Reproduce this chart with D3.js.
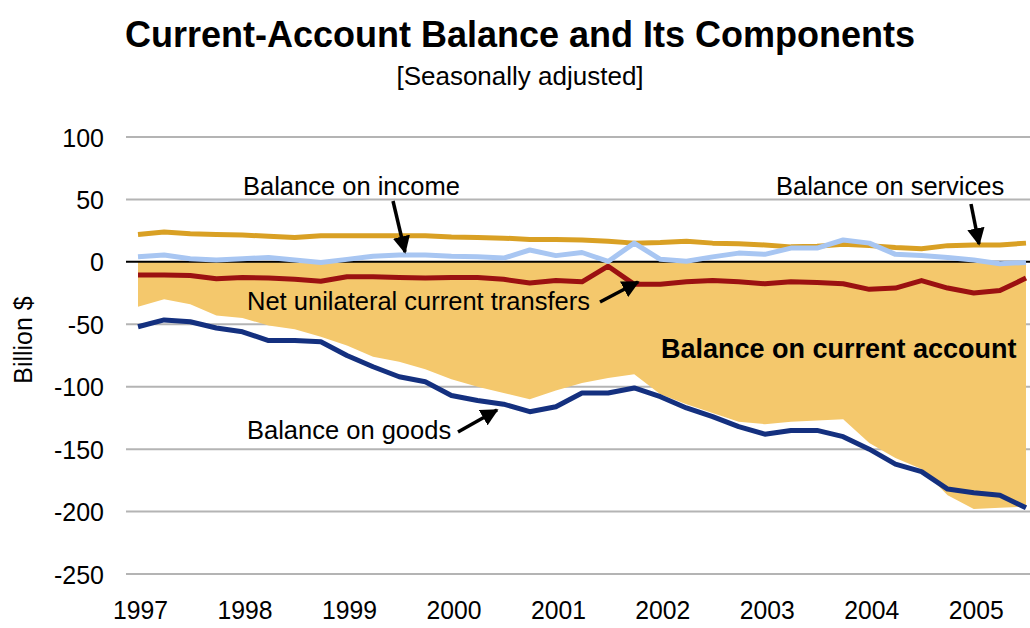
<!DOCTYPE html>
<html>
<head>
<meta charset="utf-8">
<script src="https://cdn.jsdelivr.net/npm/d3@7"></script>
<style>
  body { margin: 0; background: #fff; }
  svg { font-family: "Liberation Sans", Arial, sans-serif; }
</style>
</head>
<body>
<script>
// quarterly data, 1997Q1 .. 2005Q3 (billion $, seasonally adjusted)
const years = ["1997", "1998", "1999", "2000", "2001", "2002", "2003", "2004", "2005"];
const yTicks = [100, 50, 0, -50, -100, -150, -200, -250];

const goods = [-52, -46.5, -48, -53, -56, -63, -63, -64, -75, -84, -92, -96,
  -107, -111, -114, -120, -116, -105, -105, -101, -108, -117, -124, -132,
  -138, -135, -135, -140, -150, -162, -168, -182, -185, -187, -197];
const services = [22, 24, 22.5, 22, 21.5, 20.5, 19.5, 21, 21, 21, 21, 21,
  20, 19.5, 19, 18, 18, 17.5, 16.5, 15, 15.5, 16.5, 15, 14.5,
  13.5, 12, 12.5, 14, 13, 11.5, 10.5, 13, 13.5, 13.5, 15];
const income = [4, 5.5, 2.5, 1.5, 2.5, 3.5, 1.5, -0.5, 2, 4.5, 5.5, 5.5,
  4.5, 4, 3, 9.5, 5, 7.5, 0.3, 15, 2, 0.5, 4, 7,
  6, 11, 11, 17.5, 15, 6, 5, 3.5, 1.5, -1.5, -0.5];
const transfers = [-10.5, -10.5, -11, -13.5, -12.5, -13, -14, -15.5, -12, -12, -12.5, -13,
  -12.5, -12.5, -14, -17, -15, -16, -3.5, -18, -18, -16, -15, -16,
  -17.5, -16, -16.5, -17.5, -22, -21, -15, -21, -25, -23, -13];
const currentAccount = [-36, -30, -34, -43, -45, -51, -54, -60, -67, -76, -80, -86,
  -94, -100, -105, -110, -103, -97, -93, -90, -106, -114, -121, -128,
  -130, -128, -127, -126, -145, -157, -166, -187, -198, -197, -196];

const W = 1030, H = 628;
const svg = d3.select("body").append("svg")
  .attr("width", W).attr("height", H);

const x = d3.scaleLinear().domain([0, goods.length - 1]).range([138, 1026]);
const y = d3.scaleLinear().domain([-250, 100]).range([574, 137]);

// titles
svg.append("text").attr("x", 520).attr("y", 47).attr("text-anchor", "middle")
  .attr("font-size", 36).attr("font-weight", "bold")
  .text("Current-Account Balance and Its Components");
svg.append("text").attr("x", 520).attr("y", 85).attr("text-anchor", "middle")
  .attr("font-size", 26)
  .text("[Seasonally adjusted]");

// gridlines
svg.append("g").selectAll("line").data(yTicks.filter(d => d !== 0)).enter()
  .append("line")
  .attr("x1", 126).attr("x2", W)
  .attr("y1", d => y(d)).attr("y2", d => y(d))
  .attr("stroke", "#b4b4b4").attr("stroke-width", 2);

// current account area
const area = d3.area().x((d, i) => x(i)).y0(y(0)).y1(d => y(d));
svg.append("path").datum(currentAccount)
  .attr("d", area).attr("fill", "#f4c86c");

// zero line
svg.append("line").attr("x1", 126).attr("x2", W)
  .attr("y1", y(0)).attr("y2", y(0))
  .attr("stroke", "#000").attr("stroke-width", 2);

// y axis labels
const yAxis = d3.axisLeft(y).tickValues(yTicks).tickFormat(d => String(d))
  .tickSize(0).tickPadding(0);
const gy = svg.append("g").attr("transform", "translate(104,0)").call(yAxis);
gy.select(".domain").remove();
gy.selectAll("text").attr("font-size", 25).attr("font-family", "Liberation Sans, Arial, sans-serif")
  .attr("fill", "#000").attr("dy", "0.36em");

// x axis labels
const xAxis = d3.axisBottom(x).tickValues(d3.range(0, 33, 4))
  .tickFormat((d, i) => years[i]).tickSize(0).tickPadding(0);
const gx = svg.append("g").attr("transform", "translate(2,601)").call(xAxis);
gx.select(".domain").remove();
gx.selectAll("text").attr("font-size", 26).attr("font-family", "Liberation Sans, Arial, sans-serif")
  .attr("fill", "#000").attr("dy", "0.71em")
  .attr("textLength", 55).attr("lengthAdjust", "spacingAndGlyphs");

// y axis title
svg.append("text").attr("transform", "translate(32,340) rotate(-90)")
  .attr("text-anchor", "middle").attr("font-size", 25).text("Billion $");

// series lines
const line = d3.line().x((d, i) => x(i)).y(d => y(d));
const series = [
  { data: transfers, color: "#9b1111" },
  { data: services, color: "#d9a024" },
  { data: income, color: "#a8c6f2" },
  { data: goods, color: "#14307f" }
];
series.forEach(s => {
  svg.append("path").datum(s.data).attr("d", line)
    .attr("fill", "none").attr("stroke", s.color)
    .attr("stroke-width", 5).attr("stroke-linejoin", "round");
});

// arrow marker
svg.append("defs").append("marker")
  .attr("id", "arrow").attr("viewBox", "0 0 10 10")
  .attr("refX", 9).attr("refY", 5)
  .attr("markerWidth", 5).attr("markerHeight", 5)
  .attr("orient", "auto")
  .append("path").attr("d", "M0,0 L10,5 L0,10 z").attr("fill", "#000");

// annotations
const notes = [
  { text: "Balance on income", x: 243, y: 195, bold: false },
  { text: "Balance on services", x: 776, y: 195, bold: false },
  { text: "Net unilateral current transfers", x: 247, y: 310, bold: false },
  { text: "Balance on current account", x: 661, y: 358, bold: true },
  { text: "Balance on goods", x: 247, y: 439, bold: false }
];
svg.append("g").selectAll("text").data(notes).enter().append("text")
  .attr("x", d => d.x).attr("y", d => d.y)
  .attr("font-size", d => d.bold ? 27 : 25.5)
  .attr("font-weight", d => d.bold ? "bold" : "normal")
  .text(d => d.text);

const arrows = [
  [393, 201, 405, 252],
  [971, 204, 979, 244],
  [600, 302, 638, 282],
  [458, 432, 497, 410]
];
svg.append("g").selectAll("line").data(arrows).enter().append("line")
  .attr("x1", d => d[0]).attr("y1", d => d[1])
  .attr("x2", d => d[2]).attr("y2", d => d[3])
  .attr("stroke", "#000").attr("stroke-width", 3.5)
  .attr("marker-end", "url(#arrow)");
</script>
</body>
</html>
